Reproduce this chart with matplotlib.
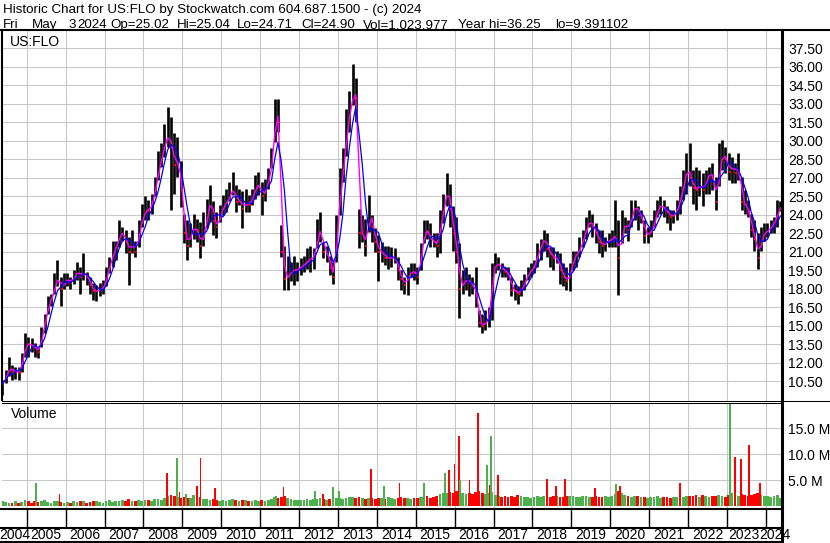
import numpy as np
import pandas as pd
import matplotlib
matplotlib.use("Agg")
import matplotlib.pyplot as plt
from matplotlib.lines import Line2D

plt.rcParams['font.family'] = ['Liberation Sans', 'DejaVu Sans']

W, H = 830, 543

# monthly bars, May 2004 .. May 2024
first_year, first_month = 2004, 5

high = [
    10.6, 11.4, 12.5, 11.85, 11.7, 11.7, 12.8, 14.4,
    14.1, 14.0, 13.6, 13.3, 14.9, 16.0, 17.4, 17.6, 19.3, 20.3, 19.0, 19.3,
    19.3, 19.0, 19.5, 20.2, 19.8, 20.9, 19.4, 19.0, 18.5, 18.3, 18.5, 18.7,
    19.8, 20.6, 21.9, 21.9, 23.6, 23.0, 22.8, 22.2, 22.8, 21.9, 23.6, 24.9,
    25.5, 25.2, 25.7, 27.1, 29.2, 29.8, 31.4, 32.7, 31.9, 30.6, 30.3, 28.4,
    24.1, 23.6, 23.3, 24.1, 23.7, 23.4, 24.2, 25.3, 26.4, 25.1, 24.2, 24.8,
    25.6, 26.1, 26.7, 27.5, 26.4, 26.1, 25.9, 26.1, 25.6, 26.1, 27.2, 27.5,
    26.7, 26.9, 27.8, 29.4, 33.4, 33.4, 23.2, 21.5, 20.7, 20.2, 20.7, 20.2,
    20.5, 20.7, 21.3, 21.5, 21.3, 23.7, 24.2, 21.8, 21.5, 20.7, 20.2, 24.0,
    27.8, 29.4, 32.6, 34.0, 36.25, 35.1, 24.5, 24.0, 23.7, 25.6, 24.0, 22.9,
    22.4, 21.8, 21.5, 21.5, 21.4, 21.3, 20.6, 19.5, 19.0, 19.8, 20.1, 20.1,
    19.8, 21.7, 23.6, 23.6, 23.3, 22.5, 22.5, 24.4, 25.7, 27.4, 26.5, 24.7,
    23.8, 21.7, 19.5, 19.8, 19.2, 19.0, 19.8, 16.3, 16.0, 16.3, 16.5, 20.1,
    20.9, 20.6, 20.1, 19.8, 19.8, 19.0, 18.4, 18.2, 18.7, 19.2, 19.8, 20.1,
    20.3, 21.7, 22.0, 22.8, 22.5, 21.4, 21.4, 21.1, 20.9, 20.1, 19.8, 20.1,
    21.1, 21.1, 22.2, 22.8, 23.8, 24.4, 24.1, 23.3, 22.8, 22.8, 22.2, 22.5,
    22.8, 25.2, 23.6, 24.4, 23.8, 23.6, 25.2, 25.2, 24.7, 24.4, 23.6, 23.0,
    23.6, 24.4, 25.2, 25.5, 25.2, 24.7, 24.4, 24.4, 25.2, 26.3, 27.6, 29.0,
    29.8, 27.6, 27.9, 27.6, 27.4, 27.6, 27.9, 28.2, 27.1, 29.8, 30.1, 29.5,
    29.0, 28.7, 28.2, 29.0, 27.1, 26.0, 25.2, 24.1, 23.6, 22.5, 23.0, 23.3,
    23.3, 23.6, 23.8, 25.2, 25.1,
]
low = [
    9.39, 10.4, 10.9, 10.6, 10.7, 10.6, 11.3, 12.5,
    12.5, 12.9, 12.5, 12.4, 13.3, 14.4, 16.0, 16.6, 17.6, 18.2, 16.6, 18.0,
    18.2, 18.0, 18.4, 18.7, 17.6, 18.7, 18.3, 17.6, 17.1, 17.0, 17.4, 17.6,
    18.2, 19.3, 19.8, 20.3, 21.4, 21.9, 20.9, 18.3, 20.9, 20.6, 21.4, 23.0,
    23.6, 23.6, 24.1, 25.5, 26.8, 27.9, 28.7, 29.5, 24.4, 25.7, 27.1, 24.6,
    21.7, 20.3, 21.4, 22.0, 21.8, 20.5, 21.5, 22.9, 23.4, 22.4, 22.1, 23.4,
    24.0, 24.2, 25.1, 25.6, 24.2, 24.8, 22.9, 24.2, 24.2, 24.8, 25.3, 25.6,
    24.0, 25.1, 26.1, 27.8, 29.9, 30.7, 20.6, 17.9, 17.9, 18.6, 18.3, 18.6,
    19.1, 19.4, 19.6, 19.4, 19.6, 21.3, 21.8, 20.5, 20.2, 19.1, 18.4, 20.2,
    24.0, 26.7, 28.8, 30.7, 32.9, 31.5, 21.3, 21.8, 20.7, 22.6, 21.8, 21.0,
    18.6, 20.2, 19.9, 19.6, 19.8, 20.1, 18.7, 17.9, 17.6, 17.5, 19.0, 18.7,
    18.4, 19.5, 21.7, 22.0, 21.4, 21.4, 20.6, 20.9, 23.3, 24.7, 23.0, 21.1,
    20.1, 15.6, 17.6, 17.9, 17.4, 17.6, 16.5, 14.9, 14.4, 14.7, 14.9, 15.5,
    19.3, 19.5, 19.0, 19.0, 18.7, 17.4, 17.1, 16.8, 17.4, 17.9, 18.7, 19.0,
    19.3, 19.8, 20.3, 21.1, 20.6, 19.8, 19.5, 20.1, 18.4, 18.2, 17.9, 17.8,
    19.5, 19.8, 20.6, 21.4, 22.0, 23.0, 22.2, 21.7, 20.9, 20.6, 21.1, 21.4,
    21.4, 21.4, 17.5, 21.7, 22.5, 21.9, 23.0, 23.6, 22.8, 23.3, 21.7, 21.7,
    22.2, 23.0, 23.8, 24.1, 23.8, 23.3, 22.8, 23.3, 23.6, 24.1, 25.2, 25.7,
    26.3, 24.9, 24.4, 25.5, 24.7, 25.7, 25.7, 26.0, 24.4, 26.3, 27.6, 27.4,
    26.8, 26.6, 26.6, 26.8, 24.4, 24.1, 23.8, 22.2, 21.1, 19.6, 21.1, 21.9,
    22.2, 22.5, 22.5, 23.0, 24.3,
]
close = [
    10.3, 11.0, 11.7, 11.3, 11.3, 11.2, 12.3, 13.6,
    13.5, 13.4, 13.2, 12.9, 14.3, 15.5, 16.8, 17.2, 18.4, 19.0, 18.0, 18.6,
    18.8, 18.5, 19.0, 19.5, 19.0, 19.3, 19.0, 18.3, 17.8, 17.8, 18.0, 18.0,
    19.2, 20.0, 21.0, 21.5, 22.5, 22.5, 21.8, 21.0, 21.8, 21.0, 22.8, 23.7,
    24.5, 24.3, 25.0, 26.3, 27.8, 28.8, 30.0, 30.5, 29.5, 28.0, 28.5, 26.0,
    22.5, 21.5, 22.6, 23.0, 22.7, 21.5, 22.5, 24.0, 25.5, 23.5, 23.0, 24.0,
    24.8, 25.0, 25.6, 26.3, 25.0, 25.3, 24.5, 25.0, 24.8, 25.5, 26.3, 26.5,
    25.5, 26.0, 27.0, 28.5, 32.5, 31.5, 21.0, 18.8, 19.0, 19.5, 19.5, 19.6,
    19.8, 20.0, 20.3, 20.5, 20.5, 22.5, 22.8, 21.0, 21.0, 19.7, 19.0, 23.0,
    26.0, 28.0, 31.0, 32.5, 34.0, 33.5, 22.5, 22.5, 21.5, 24.5, 23.0, 21.8,
    21.0, 21.0, 20.5, 20.5, 20.5, 20.6, 19.5, 18.8, 18.3, 19.0, 19.5, 19.3,
    19.0, 21.0, 22.8, 22.6, 22.0, 21.8, 21.5, 23.5, 24.5, 26.5, 24.5, 22.5,
    21.0, 18.0, 18.5, 18.8, 18.5, 18.3, 17.5, 15.2, 15.0, 15.3, 15.8, 19.5,
    20.0, 20.0, 19.6, 19.4, 19.2, 17.9, 17.8, 17.6, 18.0, 18.6, 19.3, 19.5,
    19.9, 21.0, 21.5, 22.3, 21.2, 20.8, 20.5, 20.5, 19.5, 19.0, 18.6, 19.2,
    20.7, 20.7, 21.4, 22.0, 23.0, 23.6, 23.0, 22.5, 21.8, 21.5, 21.7, 22.0,
    22.0, 22.5, 20.5, 22.8, 23.3, 22.8, 24.0, 25.0, 24.0, 24.0, 22.3, 22.5,
    22.6, 23.5, 24.6, 24.8, 24.5, 24.2, 23.8, 24.0, 24.4, 25.5, 26.5, 28.0,
    27.0, 26.2, 26.0, 26.5, 26.0, 26.8, 27.5, 27.0, 25.0, 28.0, 29.0, 28.5,
    27.5, 28.0, 27.4, 27.8, 25.0, 24.8, 24.2, 22.8, 22.0, 20.5, 22.3, 22.5,
    22.8, 23.0, 23.5, 24.2, 24.9,
]

# typical monthly volume (millions)
volume = [
    1.0, 0.8, 0.6, 0.7, 0.9, 0.6, 0.8, 1.1,
    0.9, 0.7, 1.0, 0.8, 0.9, 1.2, 0.8, 0.7, 1.0, 0.9, 0.8, 0.7,
    0.8, 0.7, 0.9, 0.8, 1.0, 0.9, 0.7, 0.8, 0.9, 1.0, 0.8, 0.7,
    0.9, 1.1, 0.8, 0.9, 1.0, 1.2, 0.9, 1.3, 1.0, 0.9, 1.1, 1.0,
    1.1, 1.2, 1.0, 1.3, 1.4, 1.2, 1.5, 2.0, 2.2, 2.0, 1.8, 1.6,
    1.8, 1.6, 1.5, 2.2, 1.9, 1.7, 1.4, 1.3, 1.2, 1.4, 1.1, 1.0,
    1.2, 1.0, 1.1, 1.3, 1.2, 1.0, 1.1, 1.2, 1.0, 0.9, 1.1, 1.0,
    1.1, 1.0, 1.2, 1.3, 1.7, 1.5, 1.8, 2.0, 1.6, 1.4, 1.2, 1.1,
    1.2, 1.1, 1.3, 1.2, 1.4, 1.3, 1.5, 1.3, 1.2, 1.4, 1.3, 1.6,
    1.5, 1.4, 1.6, 1.7, 1.8, 1.6, 1.7, 1.5, 1.4, 1.6, 1.5, 1.4,
    1.6, 1.5, 1.4, 1.7, 1.5, 1.4, 1.6, 1.7, 1.5, 1.6, 1.4, 1.5,
    1.6, 1.8, 1.7, 1.9, 1.6, 1.8, 2.0, 2.4, 2.6, 2.5, 2.8, 2.6,
    3.0, 3.2, 2.6, 2.4, 2.5, 2.3, 2.8, 3.0, 2.6, 2.4, 2.5, 2.7,
    2.2, 2.0, 1.8, 1.9, 1.7, 2.0, 1.8, 2.1, 1.9, 1.7, 1.8, 1.6,
    1.8, 2.0, 1.7, 1.9, 2.2, 1.8, 2.0, 1.9, 1.7, 1.8, 1.9, 2.0,
    1.9, 1.7, 1.8, 2.0, 1.9, 1.7, 1.8, 2.0, 1.8, 1.7, 1.9, 1.8,
    2.0, 2.4, 3.0, 2.5, 2.2, 2.0, 1.8, 1.9, 2.0, 1.8, 1.7, 1.6,
    1.8, 1.7, 1.9, 1.6, 1.8, 1.7, 1.6, 1.8, 1.7, 1.9, 1.8, 2.0,
    2.0, 1.9, 2.1, 1.8, 2.2, 1.9, 1.8, 2.0, 1.9, 2.1, 2.0, 1.8,
    2.2, 2.5, 2.3, 2.0, 2.4, 2.2, 2.0, 2.1, 2.3, 2.6, 2.2, 1.9,
    2.0, 1.8, 1.9, 2.1, 1.5,
]

# single heavy-volume days (date as year fraction, millions, up day?)
spike_date = [2005.23, 2005.84, 2008.60, 2008.86, 2008.93, 2009.09, 2009.37,
              2009.47, 2009.84, 2011.41, 2011.60, 2012.41, 2012.61, 2012.87,
              2013.03, 2013.85, 2014.19, 2014.58, 2015.22, 2015.75, 2015.85,
              2016.00, 2016.11, 2016.14, 2016.38, 2016.61, 2016.83, 2016.90,
              2016.93, 2017.12, 2018.37, 2018.61, 2018.83, 2019.60, 2020.15,
              2020.25, 2021.80, 2023.08, 2023.21, 2023.36, 2023.57, 2023.85]
spike_vol = [4.5, 2.3, 6.3, 9.2, 2.7, 2.4, 3.8, 9.2, 3.4, 2.0, 3.6, 2.9, 2.3,
             3.6, 2.9, 7.1, 3.9, 4.4, 4.5, 6.3, 6.9, 8.1, 13.5, 5.0, 5.0, 17.9,
             7.9, 4.0, 13.4, 6.0, 5.3, 3.9, 5.2, 3.5, 4.2, 3.8, 4.4, 19.7, 9.4,
             9.0, 11.8, 4.4]
spike_up = [1, 0, 0, 1, 0, 1, 0, 0, 0, 1, 0, 1, 0, 1, 1, 0, 1, 0, 1, 1, 0, 0,
            0, 1, 0, 0, 1, 0, 1, 0, 0, 0, 0, 0, 1, 0, 0, 1, 0, 0, 0, 0]

price_ticks = np.arange(10.5, 37.6, 1.5)
vol_ticks = [5, 10, 15]
years = list(range(2004, 2025))

GREEN = '#4cb04c'
GRID = '#c8c8c8'
XLIM = (2004.365, 2024.39)
FS = 10
HFS = 9.65


def box(x0, y0, x1, y1):
    return [x0 / W, 1 - y1 / H, (x1 - x0) / W, (y1 - y0) / H]


def fig_line(fig, x0, y0, x1, y1, lw):
    fig.add_artist(Line2D([x0 / W, x1 / W], [1 - y0 / H, 1 - y1 / H],
                          transform=fig.transFigure, color='black', lw=lw))


def main():
    n = len(close)
    t = first_year + (first_month - 1 + np.arange(n)) / 12 + 1 / 24
    c = pd.Series(close)
    up = (c.diff().fillna(0) >= 0).values
    ma_fast = c.rolling(2, min_periods=1).mean()
    ma_slow = c.rolling(4, min_periods=1).mean()

    fig = plt.figure(figsize=(W / 100, H / 100), dpi=100)

    # header
    fig.text(3 / W, 1 - 12.5 / H,
             'Historic Chart for US:FLO by Stockwatch.com 604.687.1500 - (c) 2024',
             fontsize=HFS, va='baseline')
    tokens = [('Fri', 3), ('May', 31.7), ('3', 68), ('2024', 77.5),
              ('Op=25.02', 110), ('Hi=25.04', 176.7), ('Lo=24.71', 236.7),
              ('Cl=24.90', 301.7), ('Vol=1,023,977', 363.3),
              ('Year hi=36.25', 458.3), ('lo=9.391102', 555)]
    for s, x in tokens:
        fig.text(x / W, 1 - 28 / H, s, fontsize=HFS, va='baseline')

    # price panel
    ax = fig.add_axes(box(2, 31, 781, 400.5))
    ax.vlines(t, low, high, color='black', lw=1.9, zorder=3)
    down = ~up
    ax.plot(t[down] + 0.025, np.array(close)[down], 's', color='red',
            ms=1.8, mew=0, zorder=4)
    ax.plot(t, ma_fast, color='#ff00ff', lw=1.0, zorder=5)
    ax.plot(t, ma_slow, color='#0000ff', lw=0.9, zorder=6)
    ax.set_xlim(*XLIM)
    ax.set_ylim(8.95, 38.9)
    ax.set_yticks(price_ticks)
    ax.set_yticklabels(['%.2f' % v for v in price_ticks])
    ax.set_xticks(years[1:])
    ax.yaxis.tick_right()
    ax.tick_params(axis='y', length=0, pad=5, labelsize=FS)
    ax.tick_params(axis='x', length=0, labelbottom=False)
    ax.grid(color=GRID, lw=0.75)
    ax.set_axisbelow(True)
    for side in ['top', 'right']:
        ax.spines[side].set_visible(False)
    ax.spines['left'].set_linewidth(1.5)
    ax.spines['bottom'].set_linewidth(0.75)
    ax.text(8.3 / 779, 1 - 15 / 369.5, 'US:FLO', transform=ax.transAxes,
            fontsize=FS, va='baseline')

    # volume panel
    vx = fig.add_axes(box(2, 402.7, 781, 508.5))
    vx.bar(t, volume, width=0.07, color=np.where(up, GREEN, 'red'),
           zorder=3)
    vx.bar(spike_date, spike_vol, width=0.045,
           color=[GREEN if u else 'red' for u in spike_up], zorder=3)
    vx.set_xlim(*XLIM)
    vx.set_ylim(-0.45, 19.9)
    vx.set_yticks(vol_ticks)
    vx.set_yticklabels(['%.1f M' % v for v in vol_ticks])
    vx.set_xticks(years[1:])
    vx.yaxis.tick_right()
    vx.tick_params(axis='y', length=0, pad=5, labelsize=FS)
    vx.tick_params(axis='x', length=0, labelbottom=False)
    vx.grid(color=GRID, lw=0.75)
    vx.set_axisbelow(True)
    for side in ['left', 'right', 'bottom']:
        vx.spines[side].set_visible(False)
    vx.spines['top'].set_linewidth(0.75)
    vx.text(9 / 779, 1 - 15 / 105.8, 'Volume', transform=vx.transAxes,
            fontsize=FS, va='baseline')

    # date strip
    dx = fig.add_axes(box(2, 509, 781, 543))
    dx.set_xlim(*XLIM)
    dx.set_ylim(34, 0)
    dx.axis('off')
    dx.vlines(years[1:], 0, 18, color='black', lw=1.0)
    nudge = {2023: -0.07, 2024: 0.04}
    for y in years:
        a, b = max(y, XLIM[0]), min(y + 1, XLIM[1])
        dx.text((a + b) / 2 + nudge.get(y, 0), 26, str(y), ha='center',
                va='center', fontsize=FS, clip_on=False)

    # frame lines
    fig_line(fig, 0, 30, W, 30, 1.5)
    fig_line(fig, 782, 30, 782, H, 2.2)
    fig_line(fig, 782, 400.5, W, 400.5, 0.75)
    fig_line(fig, 0, 509, 782, 509, 1.5)
    fig_line(fig, 0, 527.5, 782, 527.5, 1.5)
    fig_line(fig, 0, 541.8, 782, 541.8, 1.5)

    fig.savefig('out.png', dpi=100)


if __name__ == "__main__":
    main()
